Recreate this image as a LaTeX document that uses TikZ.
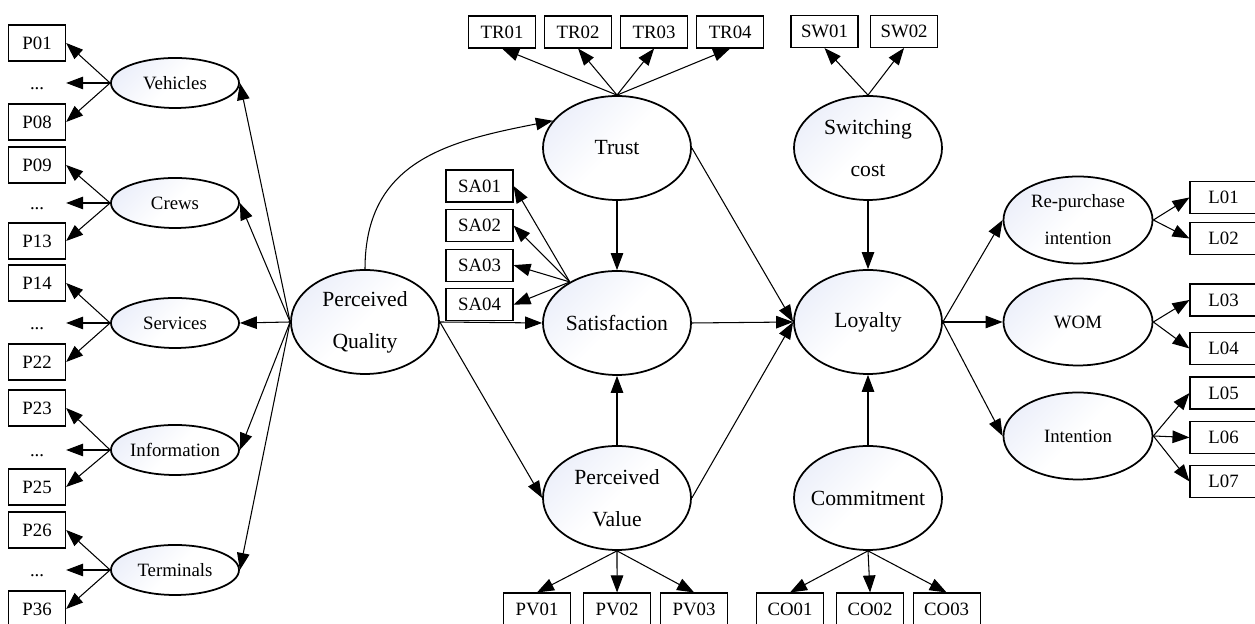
\documentclass[tikz,border=0pt]{standalone}
\usepackage{fontspec}
\setmainfont{Liberation Serif}
\usepackage{tikz}
\usetikzlibrary{positioning,shapes.geometric,arrows.meta}
\definecolor{latfill}{RGB}{237,240,250}

\begin{document}
\begin{tikzpicture}[
            latent/.style={ellipse, draw, line width=1pt, minimum width=2.96cm, minimum height=2.08cm, inner ysep=0pt, inner xsep=-0.3cm, top color=latfill, bottom color=white, middle color=white, shading angle=45, align=center, font=\fontsize{12.3}{24}\selectfont},
            latentsm/.style={latent, minimum width=2.56cm, minimum height=1cm, font=\fontsize{10.7}{21}\selectfont},
            latentrt/.style={latentsm, minimum width=2.98cm, minimum height=1.74cm},
            item/.style={rectangle, draw, line width=0.6pt, minimum width=1.34cm, minimum height=0.64cm, inner sep=0pt, font=\fontsize{10.7}{12}\selectfont},
            pitem/.style={item, minimum width=1.14cm, minimum height=0.72cm},
            moreitems/.style={item, draw=none, minimum width=1.14cm, text height=7pt, text depth=0pt},
            arrow/.style={->, line width=0.6pt, >={Triangle[length=0.34cm, width=0.25cm]}}
        ]
        \useasboundingbox (0,0) rectangle (25.1,12.48);
        % Core constructs
        \node[latent] (pq) at (7.30,6.04) {Perceived\\Quality};
        \node[latent] (trust) at (12.34,9.52) {Trust};
        \node[latent] (sat) at (12.34,6.02) {Satisfaction};
        \node[latent] (pv) at (12.34,2.52) {Perceived\\Value};
        \node[latent] (loy) at (17.36,6.04) {Loyalty};
        \node[latent] (sw) at (17.36,9.52) {Switching\\cost};
        \node[latent] (com) at (17.36,2.52) {Commitment};
        % Quality dimensions
        \node[latentsm] (veh) at (3.50,10.82) {Vehicles};
        \node[latentsm] (crew) at (3.50,8.42) {Crews};
        \node[latentsm] (serv) at (3.50,6.02) {Services};
        \node[latentsm] (info) at (3.50,3.48) {Information};
        \node[latentsm] (term) at (3.50,1.08) {Terminals};
        % Loyalty dimensions
        \node[latentrt] (rep) at (21.56,8.08) {Re-purchase\\intention};
        \node[latentrt] (wom) at (21.56,6.04) {WOM};
        \node[latentrt] (inten) at (21.56,3.76) {Intention};
        % Quality items
        \node[pitem, left=0.88cm of veh, yshift=0.8cm] (p01) {P01};
        \node[moreitems, left=0.88cm of veh] (vehdots) {...};
        \node[pitem, left=0.88cm of veh, yshift=-0.78cm] (p08) {P08};
        \node[pitem, left=0.88cm of crew, yshift=0.76cm] (p09) {P09};
        \node[moreitems, left=0.88cm of crew] (crewdots) {...};
        \node[pitem, left=0.88cm of crew, yshift=-0.76cm] (p13) {P13};
        \node[pitem, left=0.88cm of serv, yshift=0.8cm] (p14) {P14};
        \node[moreitems, left=0.88cm of serv] (servdots) {...};
        \node[pitem, left=0.88cm of serv, yshift=-0.78cm] (p22) {P22};
        \node[pitem, left=0.88cm of info, yshift=0.84cm] (p23) {P23};
        \node[moreitems, left=0.88cm of info] (infodots) {...};
        \node[pitem, left=0.88cm of info, yshift=-0.74cm] (p25) {P25};
        \node[pitem, left=0.88cm of term, yshift=0.8cm] (p26) {P26};
        \node[moreitems, left=0.88cm of term] (termdots) {...};
        \node[pitem, left=0.88cm of term, yshift=-0.78cm] (p36) {P36};
        % Trust and switching items
        \node[item] (tr01) at (10.04,11.84) {TR01};
        \node[item, right=0.16cm of tr01] (tr02) {TR02};
        \node[item, right=0.16cm of tr02] (tr03) {TR03};
        \node[item, right=0.16cm of tr03] (tr04) {TR04};
        \node[item] (sw01) at (16.49,11.85) {SW01};
        \node[item, right=0.23cm of sw01] (sw02) {SW02};
        % Satisfaction items
        \node[item] (sa01) at (9.59,8.76) {SA01};
        \node[item, below=0.13cm of sa01] (sa02) {SA02};
        \node[item, below=0.13cm of sa02] (sa03) {SA03};
        \node[item, below=0.13cm of sa03] (sa04) {SA04};
        % Value and commitment items
        \node[item] (pv01) at (10.74,0.30) {PV01};
        \node[item, right=0.24cm of pv01] (pv02) {PV02};
        \node[item, right=0.18cm of pv02] (pv03) {PV03};
        \node[item] (co01) at (15.80,0.30) {CO01};
        \node[item, right=0.24cm of co01] (co02) {CO02};
        \node[item, right=0.17cm of co02] (co03) {CO03};
        % Loyalty items
        \node[item] (l01) at (24.47,8.53) {L01};
        \node[item] (l02) at (24.47,7.71) {L02};
        \node[item] (l03) at (24.47,6.48) {L03};
        \node[item] (l04) at (24.47,5.51) {L04};
        \node[item] (l05) at (24.47,4.62) {L05};
        \node[item] (l06) at (24.47,3.73) {L06};
        \node[item] (l07) at (24.47,2.85) {L07};
        % Measurement arrows
        \draw[arrow] (veh.west) -- (p01.east);
        \draw[arrow] (veh.west) -- (vehdots.east);
        \draw[arrow] (veh.west) -- (p08.east);
        \draw[arrow] (crew.west) -- (p09.east);
        \draw[arrow] (crew.west) -- (crewdots.east);
        \draw[arrow] (crew.west) -- (p13.east);
        \draw[arrow] (serv.west) -- (p14.east);
        \draw[arrow] (serv.west) -- (servdots.east);
        \draw[arrow] (serv.west) -- (p22.east);
        \draw[arrow] (info.west) -- (p23.east);
        \draw[arrow] (info.west) -- (infodots.east);
        \draw[arrow] (info.west) -- (p25.east);
        \draw[arrow] (term.west) -- (p26.east);
        \draw[arrow] (term.west) -- (termdots.east);
        \draw[arrow] (term.west) -- (p36.east);
        \draw[arrow] (trust.north) -- (tr01.south);
        \draw[arrow] (trust.north) -- (tr02.south);
        \draw[arrow] (trust.north) -- (tr03.south);
        \draw[arrow] (trust.north) -- (tr04.south);
        \draw[arrow] (sw.north) -- (sw01.south);
        \draw[arrow] (sw.north) -- (sw02.south);
        \draw[arrow] (sat.139) -- (sa01.east);
        \draw[arrow] (sat.139) -- (sa02.east);
        \draw[arrow] (sat.139) -- (sa03.east);
        \draw[arrow] (sat.139) -- (sa04.east);
        \draw[arrow] (pv.south) -- (pv01.north);
        \draw[arrow] (pv.south) -- (pv02.north);
        \draw[arrow] (pv.south) -- (pv03.north);
        \draw[arrow] (com.south) -- (co01.north);
        \draw[arrow] (com.south) -- (co02.north);
        \draw[arrow] (com.south) -- (co03.north);
        \draw[arrow] (rep.east) -- (l01.west);
        \draw[arrow] (rep.east) -- (l02.west);
        \draw[arrow] (wom.east) -- (l03.west);
        \draw[arrow] (wom.east) -- (l04.west);
        \draw[arrow] (inten.east) -- (l05.west);
        \draw[arrow] (inten.east) -- (l06.west);
        \draw[arrow] (inten.east) -- (l07.west);
        % Structural arrows
        \draw[arrow] (pq.west) -- (veh.east);
        \draw[arrow] (pq.west) -- (crew.east);
        \draw[arrow] (pq.west) -- (serv.east);
        \draw[arrow] (pq.west) -- (info.east);
        \draw[arrow] (pq.west) -- (term.east);
        \draw[arrow] (pq.north) to[out=90, in=191, looseness=1.15] (trust.157);
        \draw[arrow] (pq.east) -- (sat.west);
        \draw[arrow] (pq.east) -- (pv.west);
        \draw[arrow] (trust) -- (sat);
        \draw[arrow] (pv) -- (sat);
        \draw[arrow] (trust.east) -- (loy.west);
        \draw[arrow] (sat.east) -- (loy.west);
        \draw[arrow] (pv.east) -- (loy.west);
        \draw[arrow] (sw) -- (loy);
        \draw[arrow] (com) -- (loy);
        \draw[arrow] (loy.east) -- (rep.west);
        \draw[arrow] (loy.east) -- (wom.west);
        \draw[arrow] (loy.east) -- (inten.west);
    \end{tikzpicture}
\end{document}
